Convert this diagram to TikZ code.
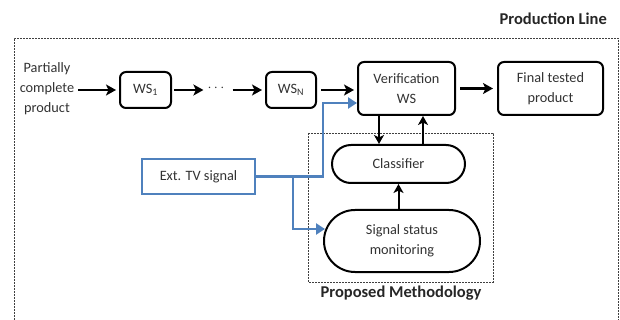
\documentclass[tikz,border=0pt]{standalone}
\usepackage{fontspec}
\setmainfont{Carlito}
\usetikzlibrary{arrows.meta,shapes.misc}
\definecolor{txt}{RGB}{50,50,50}
\definecolor{sigblue}{RGB}{79,129,189}
\begin{document}
\begin{tikzpicture}[x=1pt,y=-1pt,
  every node/.style={font=\fontsize{14.3}{20}\selectfont,text=txt,inner sep=0pt},
  wsbox/.style={draw=black,line width=2pt,rounded corners=6pt,align=center},
  pill/.style={draw=black,line width=2pt,rounded rectangle,align=center},
  frame/.style={draw=black!75,line width=0.9pt,dash pattern=on 2pt off 1pt},
  flow/.style={draw=black,line width=2.6pt,-{Stealth[length=10pt,width=11pt,inset=2.5pt]}},
  vflow/.style={draw=black,line width=2pt,-{Stealth[length=9pt,width=10pt,inset=2.5pt]}},
  sig/.style={draw=sigblue,line width=2.6pt},
  sigarrow/.style={sig,-{Triangle[length=9pt,width=11pt]}},
  title/.style={font=\fontsize{16.5}{20}\selectfont\bfseries,text=black!85}]
\useasboundingbox (0,0) rectangle (620,320);
% outer frame (open at bottom)
\draw[frame] (14,320) -- (14,38) -- (618,38) -- (618,320);
\node[title,anchor=east] (pl) at (607,19) {Production Line};
% inner frame
\draw[frame] (308,133) rectangle (493,282);
\node[title] (pm) at (401,293) {Proposed Methodology};
% nodes
\node[align=center] (pcp) at (47,89) {Partially\\complete\\product};
\node[wsbox,minimum width=51pt,minimum height=36pt] (ws1) at (145.5,90) {WS\textsubscript{1}};
\node (dots) at (216,88) {$\cdots$};
\node[wsbox,minimum width=50pt,minimum height=36pt] (wsn) at (291,90) {WS\textsubscript{N}};
\node[wsbox,minimum width=97pt,minimum height=53pt] (ver) at (406.5,88.5) {Verification\\WS};
\node[wsbox,minimum width=105pt,minimum height=53pt] (fin) at (550.5,88.5) {Final tested\\product};
\node[pill,minimum width=133pt,minimum height=38pt] (cls) at (398.5,164) {Classifier};
\node[pill,minimum width=156pt,minimum height=62pt] (ssm) at (402,241) {Signal status\\monitoring};
\node[draw=sigblue,line width=2.4pt,minimum width=113pt,minimum height=35pt] (ext) at (198.5,176.5) {Ext. TV signal};
% black flow
\draw[flow] ([xshift=4pt]pcp.east |- ws1.west) -- ([xshift=-3pt]ws1.west);
\draw[flow] ([xshift=2pt]ws1.east) -- ([xshift=-4pt]dots.west |- ws1.east);
\draw[flow] ([xshift=8pt]dots.east |- wsn.west) -- ([xshift=-3pt]wsn.west);
\draw[flow] ([xshift=4pt]wsn.east) -- ([xshift=-3pt]ver.west |- wsn.east);
\draw[flow] ([xshift=4pt]ver.east) -- ([xshift=-4pt]fin.west);
\draw[vflow] ([xshift=-27.5pt]ver.south) -- ([xshift=-19.5pt]cls.north);
\draw[vflow] ([xshift=24.5pt]cls.north) -- ([xshift=16.5pt]ver.south);
\draw[vflow] (cls.south |- ssm.north) -- (cls.south);
% blue signal
\coordinate (j1) at (293,176.5);
\coordinate (j2) at (323,176.5);
\coordinate (j3) at (323,103);
\draw[sigarrow] (ext.east) -- (j2) -- (j3) -- (ver.west |- j3);
\draw[sigarrow] (j1) -- (293,229) -- (325,229);
\end{tikzpicture}
\end{document}
